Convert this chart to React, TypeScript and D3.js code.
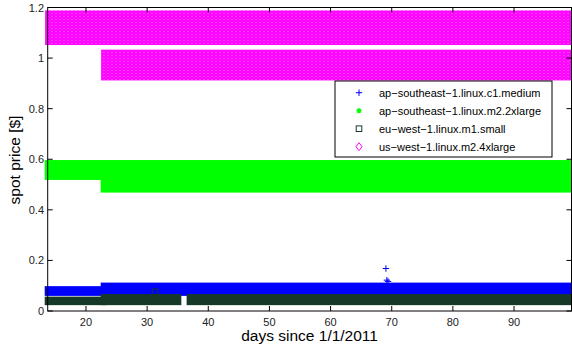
import React from "react";
import * as d3 from "d3";

// spot price history, read off the figure as price bands per period
// each band: [startDay, endDay, lowPrice, highPrice]
const seriesNames = [
  "ap−southeast−1.linux.c1.medium",
  "ap−southeast−1.linux.m2.2xlarge",
  "eu−west−1.linux.m1.small",
  "us−west−1.linux.m2.4xlarge",
];
const seriesColors = ["#0000ff", "#00ff00", "#163a27", "#ff00ff"];

const c1MediumBands = [
  [13.74, 22.9, 0.07, 0.088],
  [22.9, 99.4, 0.07, 0.102],
];
const c1MediumOutliers = [
  [69.05, 0.168],
  [69.2, 0.122],
  [69.4, 0.117],
];
const m22xlargeBands = [
  [13.74, 99.4, 0.53, 0.585],
  [22.9, 99.4, 0.48, 0.53],
];
const m1SmallBands = [
  [13.74, 22.9, 0.035, 0.045],
  [22.9, 35.1, 0.035, 0.055],
  [36.95, 99.4, 0.035, 0.055],
];
const m1SmallOutliers = [[31.3, 0.076]];
const m24xlargeBands = [
  [13.74, 99.4, 1.065, 1.175],
  [22.9, 99.4, 0.925, 1.02],
];

const xTicks = [20, 30, 40, 50, 60, 70, 80, 90];
const yTicks = [0, 0.2, 0.4, 0.6, 0.8, 1, 1.2];

const W = 572;
const H = 348;
const FONT = "'Liberation Sans', Arial, sans-serif";

const x = d3.scaleLinear().domain([13.74, 99.4]).range([47.7, 571.5]);
const y = d3.scaleLinear().domain([0, 1.2]).range([311, 7.5]);

const plusPath = (s) => `M${-s},0H${s}M0,${-s}V${s}`;
const diamondPath = (w, h) => `M0,${-h}L${w},0L0,${h}L${-w},0Z`;
const starPath = (s) => {
  const d = s * 0.7;
  return `M${-s},0H${s}M0,${-s}V${s}M${-d},${-d}L${d},${d}M${-d},${d}L${d},${-d}`;
};

function Band({ b, padX, padY, fill }) {
  const [x0, x1, lo, hi] = b;
  return (
    <rect
      x={x(x0) - padX}
      width={x(x1) - x(x0) + 2 * padX}
      y={y(hi) - padY}
      height={y(lo) - y(hi) + 2 * padY}
      fill={fill}
    />
  );
}

function Marker({ i, cx, cy }) {
  const c = seriesColors[i];
  if (i === 0) return <path d={plusPath(3.2)} transform={`translate(${cx},${cy})`} stroke={c} fill="none" />;
  if (i === 1) return <path d={starPath(2.6)} transform={`translate(${cx},${cy})`} stroke={c} fill="none" strokeWidth={1.3} />;
  if (i === 2) return <rect x={cx - 2.8} y={cy - 2.8} width={5.6} height={5.6} stroke={c} fill="none" />;
  return <path d={diamondPath(3, 4)} transform={`translate(${cx},${cy})`} stroke={c} fill="none" />;
}

export default function App() {
  const [l, r] = x.range();
  const [b, t] = y.range();
  const tick = 5;
  const diamonds = [
    [0, 0],
    [4, 0],
    [0, 3],
    [4, 3],
    [2, 1.5],
  ];

  return (
    <div style={{ position: "absolute", left: 0, top: 0 }}>
      <svg width={W} height={H} style={{ display: "block", background: "#fff" }}>
        <defs>
          <pattern id="diam" patternUnits="userSpaceOnUse" width={4} height={3}>
            <rect width={4} height={3} fill="#ff00ff" opacity={0.75} />
            {diamonds.map(([px, py], k) => (
              <path key={k} d={diamondPath(2.6, 3.4)} transform={`translate(${px},${py})`} stroke="#ff00ff" strokeWidth={1} fill="none" />
            ))}
          </pattern>
        </defs>

        {c1MediumBands.map((d, k) => (
          <Band key={"c" + k} b={d} padX={3} padY={2.6} fill={seriesColors[0]} />
        ))}
        {c1MediumOutliers.map(([dx, dy], k) => (
          <Marker key={"co" + k} i={0} cx={x(dx)} cy={y(dy)} />
        ))}
        {m22xlargeBands.map((d, k) => (
          <Band key={"g" + k} b={d} padX={3} padY={3} fill={seriesColors[1]} />
        ))}
        {m1SmallBands.map((d, k) => (
          <Band key={"s" + k} b={d} padX={3} padY={3} fill={seriesColors[2]} />
        ))}
        {m1SmallOutliers.map(([dx, dy], k) => (
          <Marker key={"so" + k} i={2} cx={x(dx)} cy={y(dy)} />
        ))}
        {m24xlargeBands.map((d, k) => (
          <Band key={"m" + k} b={d} padX={2.6} padY={3.4} fill="url(#diam)" />
        ))}

        {/* axes box with ticks on every side */}
        <rect x={l} y={t} width={r - l} height={b - t} fill="none" stroke="#000" strokeWidth={1} />
        {xTicks.map((v) => (
          <g key={"xt" + v}>
            <line x1={x(v)} x2={x(v)} y1={b} y2={b - tick} stroke="#000" />
            <line x1={x(v)} x2={x(v)} y1={t} y2={t + tick} stroke="#000" />
            <text x={x(v)} y={325.5} textAnchor="middle" fontSize={11} fontFamily={FONT} fill="#222">
              {v}
            </text>
          </g>
        ))}
        {yTicks.map((v) => (
          <g key={"yt" + v}>
            <line x1={l} x2={l + tick} y1={y(v)} y2={y(v)} stroke="#000" />
            <line x1={r} x2={r - tick} y1={y(v)} y2={y(v)} stroke="#000" />
            <text x={44} y={y(v) + 4} textAnchor="end" fontSize={11} fontFamily={FONT} fill="#222">
              {d3.format("~g")(v)}
            </text>
          </g>
        ))}

        <text x={(l + r) / 2} y={341} textAnchor="middle" fontSize={15.5} fontFamily={FONT} fill="#000">
          days since 1/1/2011
        </text>
        <text transform={`translate(20,160) rotate(-90)`} textAnchor="middle" fontSize={15.5} fontFamily={FONT} fill="#000">
          spot price [$]
        </text>

        {/* legend */}
        <g>
          <rect x={335} y={81} width={217} height={76} fill="#fff" stroke="#000" strokeWidth={1} />
          {seriesNames.map((name, i) => {
            const cy = 92.7 + i * 18;
            return (
              <g key={name}>
                <Marker i={i} cx={359} cy={cy} />
                <text x={379} y={cy + 4} fontSize={11} fontFamily={FONT} fill="#000">
                  {name}
                </text>
              </g>
            );
          })}
        </g>
      </svg>
    </div>
  );
}
